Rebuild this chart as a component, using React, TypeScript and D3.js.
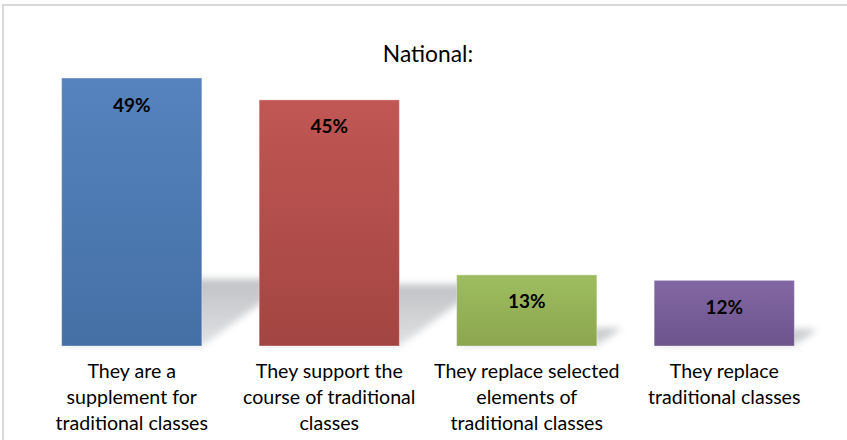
import React from "react";
import * as d3 from "d3";

const categories = [
  "They are a supplement for traditional classes",
  "They support the course of traditional classes",
  "They replace selected elements of traditional classes",
  "They replace traditional classes",
];
const categoryLines = [
  ["They are a", "supplement for", "traditional classes"],
  ["They support the", "course of traditional", "classes"],
  ["They replace selected", "elements of", "traditional classes"],
  ["They replace", "traditional classes"],
];
const values = [0.49, 0.45, 0.13, 0.12];
const valueLabels = ["49%", "45%", "13%", "12%"];
const title = "National:";
const barColors = [
  ["#5683bd", "#4470a6"],
  ["#c05754", "#a34542"],
  ["#9ebd60", "#8ca64f"],
  ["#8267a4", "#6d548c"],
];

const W = 847;
const H = 440;
const FONT = "Lato, 'Open Sans', sans-serif";

export default function App() {
  const x = d3
    .scaleBand<string>()
    .domain(categories)
    .range([33, 823])
    .paddingInner(0.29)
    .paddingOuter(0.145);
  const y = d3.scaleLinear().domain([0, 0.49]).range([346, 78]);
  const base = y(0);

  return (
    <svg
      width={W}
      height={H}
      style={{ position: "absolute", left: 0, top: 0, background: "#fff" }}
    >
      <defs>
        {barColors.map((c, i) => (
          <linearGradient key={i} id={`bg${i}`} x1="0" y1="0" x2="0" y2="1">
            <stop offset="0%" stopColor={c[0]} />
            <stop offset="100%" stopColor={c[1]} />
          </linearGradient>
        ))}
        <linearGradient id="shg" x1="0" y1="0" x2="0" y2="1">
          <stop offset="0%" stopColor="#c0c2c5" />
          <stop offset="100%" stopColor="#e0e1e3" />
        </linearGradient>
        <filter id="blur" x="-20%" y="-40%" width="140%" height="180%">
          <feGaussianBlur stdDeviation="3.5" />
        </filter>
      </defs>
      <rect x={0} y={0} width={W} height={H} fill="#fff" />
      <rect
        x={3}
        y={5}
        width={W + 20}
        height={H + 20}
        fill="none"
        stroke="#d9d9d9"
        strokeWidth={2}
      />
      <text
        x={428}
        y={62}
        textAnchor="middle"
        fontFamily={FONT}
        fontSize={22.8}
        fill="#000"
      >
        {title}
      </text>
      {categories.map((c, i) => {
        const x0 = x(c)!;
        const x1 = x0 + x.bandwidth();
        const bh = base - y(values[i]);
        const sh = bh * 0.25;
        const dx = sh * 1.37;
        const pts = [
          [x0, base],
          [x1, base],
          [x1 + dx, base - sh],
          [x0 + dx, base - sh],
        ]
          .map((p) => p.join(","))
          .join(" ");
        return (
          <polygon
            key={"s" + i}
            points={pts}
            fill="url(#shg)"
            filter="url(#blur)"
          />
        );
      })}
      {categories.map((c, i) => (
        <g key={"b" + i}>
          <rect
            x={x(c)}
            y={y(values[i])}
            width={x.bandwidth()}
            height={base - y(values[i])}
            fill={`url(#bg${i})`}
            stroke="rgba(255,255,255,0.35)"
            strokeWidth={1}
          />
          <text
            x={x(c)! + x.bandwidth() / 2}
            y={y(values[i]) + 33.5}
            textAnchor="middle"
            fontFamily={FONT}
            fontWeight="bold"
            fontSize={19}
            fill="#000"
          >
            {valueLabels[i]}
          </text>
          <text
            x={x(c)! + x.bandwidth() / 2}
            y={base + 32.3}
            textAnchor="middle"
            fontFamily={FONT}
            fontSize={19.6}
            fill="#000"
          >
            {categoryLines[i].map((l, j) => (
              <tspan key={j} x={x(c)! + x.bandwidth() / 2} dy={j === 0 ? 0 : 25.6}>
                {l}
              </tspan>
            ))}
          </text>
        </g>
      ))}
    </svg>
  );
}
